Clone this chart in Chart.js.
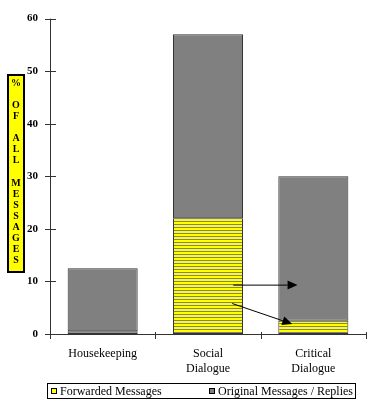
<!DOCTYPE html>
<html>
<head>
<meta charset="utf-8">
<script src="https://cdn.jsdelivr.net/npm/chart.js@4"></script>
<style>
html,body{margin:0;padding:0;background:#fff;}
#wrap{width:374px;height:405px;position:relative;}
</style>
</head>
<body>
<div id="wrap"><canvas id="c" width="374" height="405"></canvas></div>
<script>
// ---- data ----
const categories = [["Housekeeping"], ["Social", "Dialogue"], ["Critical", "Dialogue"]];
const forwardedValues = [0.5, 22, 2.5];
const originalValues = [12, 35, 27.5];
const seriesLabels = ["Forwarded Messages", "Original Messages / Replies"];
const yTicks = [0, 10, 20, 30, 40, 50, 60];
const yTitle = "% OF ALL MESSAGES";
// arrows in data units: x as fractional category index, y as value
const arrows = [
  { from: [1.24, 9.3], to: [1.85, 9.3] },
  { from: [1.23, 5.8], to: [1.80, 1.9] }
];

const SERIF = "'Liberation Serif', 'Times New Roman', serif";
const YELLOW = "#ffff00";
const GRAY = "#808080";
const DARK = "#333333";

function stripePattern() {
  const c = document.createElement("canvas");
  c.width = 4; c.height = 3;
  const g = c.getContext("2d");
  g.fillStyle = YELLOW; g.fillRect(0, 0, 4, 3);
  g.fillStyle = GRAY; g.fillRect(0, 2, 4, 1);
  return document.getElementById("c").getContext("2d").createPattern(c, "repeat");
}

const decor = {
  id: "decor",
  afterDraw(chart) {
    const ctx = chart.ctx;
    const xs = chart.scales.x, ys = chart.scales.y;
    const ax = chart.chartArea.left, y0 = ys.getPixelForValue(0);
    const n = categories.length;
    const catW = (xs.right - xs.left) / n;
    ctx.save();
    ctx.strokeStyle = DARK; ctx.lineWidth = 1;
    // axes + crossing ticks
    ctx.beginPath();
    ctx.moveTo(ax + 0.5, chart.chartArea.top); ctx.lineTo(ax + 0.5, y0 + 4);
    ctx.moveTo(ax - 4, Math.round(y0) + 0.5); ctx.lineTo(xs.right, Math.round(y0) + 0.5);
    yTicks.forEach(v => {
      const py = Math.round(ys.getPixelForValue(v)) + 0.5;
      ctx.moveTo(ax - 5, py); ctx.lineTo(ax + 6, py);
    });
    for (let i = 0; i <= n; i++) {
      const px = Math.round(xs.left + i * catW) + 0.5;
      ctx.moveTo(px, y0 - 2); ctx.lineTo(px, y0 + 5);
    }
    ctx.stroke();

    // arrows
    const toPx = (p) => [xs.left + (p[0] + 0.5) * catW, ys.getPixelForValue(p[1])];
    ctx.fillStyle = "#000"; ctx.strokeStyle = "#000";
    arrows.forEach(a => {
      const [x1, y1] = toPx(a.from), [x2, y2] = toPx(a.to);
      const ang = Math.atan2(y2 - y1, x2 - x1);
      const L = 10, W = 4.5;
      const bx = x2 - L * Math.cos(ang), by = y2 - L * Math.sin(ang);
      ctx.beginPath(); ctx.moveTo(x1, y1); ctx.lineTo(bx, by); ctx.stroke();
      ctx.beginPath();
      ctx.moveTo(x2, y2);
      ctx.lineTo(bx + W * Math.sin(ang), by - W * Math.cos(ang));
      ctx.lineTo(bx - W * Math.sin(ang), by + W * Math.cos(ang));
      ctx.closePath(); ctx.fill();
    });

    // y title box
    ctx.fillStyle = YELLOW;
    ctx.fillRect(8, 75, 16, 197);
    ctx.strokeStyle = "#000"; ctx.lineWidth = 2;
    ctx.strokeRect(8, 75, 16, 197);
    ctx.fillStyle = "#000";
    ctx.font = "bold 10px " + SERIF;
    ctx.textAlign = "center"; ctx.textBaseline = "middle";
    const chars = yTitle.split("");
    chars.forEach((ch, i) => { if (ch !== " ") ctx.fillText(ch, 16, 83.5 + i * 11.06); });

    // legend
    ctx.lineWidth = 1; ctx.strokeStyle = "#000";
    ctx.strokeRect(47.5, 383.5, 308, 15);
    ctx.textAlign = "left"; ctx.textBaseline = "middle";
    ctx.font = "12px " + SERIF;
    const w2 = ctx.measureText(chart.data.datasets[1].label).width;
    const items = [
      { x: 51, fill: YELLOW },
      { x: Math.round(353 - w2 - 9), fill: GRAY }
    ];
    items.forEach((it, i) => {
      ctx.fillStyle = it.fill;
      ctx.fillRect(it.x, 388, 6, 6);
      ctx.strokeStyle = "#000";
      ctx.strokeRect(it.x + 0.5, 388.5, 5, 5);
      ctx.fillStyle = "#000";
      ctx.fillText(chart.data.datasets[i].label, it.x + 9, 391.5);
    });
    ctx.restore();
  }
};

new Chart(document.getElementById("c"), {
  type: "bar",
  data: {
    labels: categories,
    datasets: [
      { label: seriesLabels[0], data: forwardedValues, backgroundColor: stripePattern(),
        borderColor: DARK, borderWidth: 1, borderSkipped: false,
        barPercentage: 0.665, categoryPercentage: 1 },
      { label: seriesLabels[1], data: originalValues, backgroundColor: GRAY,
        borderColor: DARK, borderWidth: 1, borderSkipped: false,
        barPercentage: 0.665, categoryPercentage: 1 }
    ]
  },
  options: {
    responsive: false,
    animation: false,
    layout: { padding: { top: 12, right: 8, left: 0, bottom: 0 } },
    plugins: { legend: { display: false }, tooltip: { enabled: false } },
    scales: {
      x: {
        stacked: true,
        grid: { display: false, drawTicks: false },
        border: { display: false },
        ticks: { color: "#000", padding: 13, font: { family: SERIF, size: 12 }, maxRotation: 0 },
        afterFit(s) { s.height = 71; }
      },
      y: {
        stacked: true,
        min: 0, max: 60,
        grid: { display: false, drawTicks: false },
        border: { display: false },
        ticks: { stepSize: 10, color: "#000", padding: 12, font: { family: SERIF, size: 11, weight: "bold" } },
        afterFit(s) { s.width = 50; }
      }
    }
  },
  plugins: [decor]
});
</script>
</body>
</html>
